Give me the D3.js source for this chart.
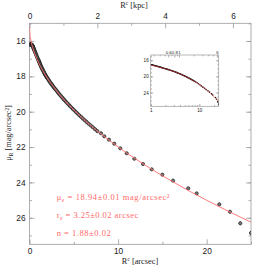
<!DOCTYPE html>
<html>
<head>
<meta charset="utf-8">
<script src="https://cdn.jsdelivr.net/npm/d3@7"></script>
<style>
  html, body { margin: 0; padding: 0; background: #fff; }
  svg { display: block; font-family: "Liberation Serif", "DejaVu Serif", serif; }
</style>
</head>
<body>
<svg id="chart" width="274" height="274"></svg>
<script>
// Profile data (R in arcsec, mu in mag/arcsec^2).
const innerR = [0.03, 0.06, 0.09, 0.12, 0.15, 0.18, 0.21, 0.24, 0.27, 0.29, 0.31, 0.33, 0.36, 0.38,
  0.41, 0.44, 0.47, 0.50, 0.54, 0.58, 0.62, 0.66, 0.71, 0.76, 0.81, 0.87, 0.93, 0.99,
  1.03, 1.07, 1.11, 1.15, 1.19, 1.23, 1.28, 1.32, 1.37, 1.42, 1.47, 1.52, 1.57, 1.63, 1.68, 1.74,
  1.80, 1.86, 1.93, 2.00, 2.07, 2.14, 2.22, 2.29, 2.37, 2.46, 2.54, 2.63, 2.73, 2.82, 2.92, 3.02,
  3.13, 3.24, 3.35, 3.47, 3.59, 3.72, 3.85, 3.98, 4.12, 4.27, 4.42, 4.57, 4.73, 4.90, 5.07, 5.25,
  5.43, 5.62, 5.82, 6.02, 6.23, 6.45, 6.67, 6.91, 7.15, 7.40, 7.66];
const innerMu = [16.21, 16.20, 16.19, 16.18, 16.19, 16.19, 16.20, 16.21, 16.22, 16.24, 16.25, 16.27,
  16.30, 16.32, 16.35, 16.38, 16.42, 16.46, 16.51, 16.56, 16.61, 16.66, 16.72, 16.78, 16.85, 16.92,
  16.99, 17.06,
  17.10, 17.15, 17.20, 17.25, 17.30, 17.35, 17.41, 17.45, 17.51, 17.56, 17.61, 17.66, 17.71, 17.77,
  17.82, 17.88, 17.93, 17.98, 18.04, 18.09, 18.14, 18.19, 18.26, 18.31, 18.37, 18.43, 18.48, 18.54,
  18.61, 18.67, 18.73, 18.79, 18.86, 18.93, 19.00, 19.07, 19.14, 19.21, 19.29, 19.36, 19.44, 19.52,
  19.60, 19.68, 19.76, 19.85, 19.93, 20.02, 20.11, 20.20, 20.29, 20.39, 20.48, 20.58, 20.68, 20.78,
  20.88, 20.99, 21.10];
const outerR = [8.07, 8.44, 8.97, 9.57, 10.25, 10.97, 11.83, 12.81, 13.79, 14.99, 16.2, 17.92,
  18.87, 21.42, 22.63, 23.79, 25.0];
const outerMu = [21.22, 21.39, 21.58, 21.81, 22.07, 22.35, 22.66, 22.96, 23.26, 23.56, 23.9, 24.33,
  24.62, 25.24, 25.66, 26.31, 26.86];
const outerErr = [0.02, 0.02, 0.02, 0.03, 0.03, 0.03, 0.04, 0.04, 0.05, 0.05, 0.06, 0.07,
  0.08, 0.09, 0.10, 0.12, 0.14];

// Sersic fit curve.
const modelR = [0, 0.05, 0.1, 0.2, 0.4, 0.7, 1, 1.5, 2, 3, 4, 5, 6, 8, 10, 12, 14, 16, 18, 20, 22, 24, 25];
const modelMu = [15.21, 15.62, 15.80, 16.06, 16.44, 16.86, 17.20, 17.68, 18.09, 18.78, 19.38, 19.90,
  20.38, 21.23, 21.99, 22.68, 23.32, 23.91, 24.48, 25.01, 25.52, 26.01, 26.24];

const kpcPerArcsec = 0.2613;
const fitLines = [
  { pre: 'μ', sub: 'e', post: ' = 18.94±0.01 mag/arcsec²' },
  { pre: 'r', sub: 'e', post: ' = 3.25±0.02 arcsec' },
  { pre: 'n', sub: '', post: ' = 1.88±0.02' },
];
const insetTopLabels = [0.6, 0.8, 1, 6];

const FRAME = '#9a9a9a';
const INK = '#222';
const RED = '#ff6a6a';

const svg = d3.select('#chart');
const points = innerR.map((r, i) => ({ r, mu: innerMu[i], err: 0 }))
  .concat(outerR.map((r, i) => ({ r, mu: outerMu[i], err: outerErr[i] })));
const model = modelR.map((r, i) => ({ r, mu: modelMu[i] }));

// ---- main panel
const L = 29.5, R = 251, T = 23.3, B = 244.3;
const x = d3.scaleLinear().domain([0, 25]).range([L, R]);
const y = d3.scaleLinear().domain([15, 27.5]).range([T, B]);
const xk = d3.scaleLinear().domain([0, 25 * kpcPerArcsec]).range([L, R]);

function styleAxis(g, size) {
  g.select('.domain').remove();
  g.selectAll('.tick line').attr('stroke', FRAME).attr('stroke-width', 0.8);
  g.selectAll('.tick text').attr('fill', INK).attr('font-size', size).attr('font-family', null);
}

function addAxis(axis, tx, ty, size) {
  svg.append('g').attr('transform', `translate(${tx},${ty})`).call(axis).call(styleAxis, size);
}

// major + minor ticks, all pointing inward
addAxis(d3.axisLeft(y).tickValues(d3.range(16, 27, 2)).tickSize(-5).tickPadding(4), L, 0, 8.3);
addAxis(d3.axisLeft(y).tickValues(d3.range(15, 28, 1)).tickSize(-2.5).tickFormat(''), L, 0, 8);
addAxis(d3.axisRight(y).tickValues(d3.range(16, 27, 2)).tickSize(-5).tickFormat(''), R, 0, 8);
addAxis(d3.axisRight(y).tickValues(d3.range(15, 28, 1)).tickSize(-2.5).tickFormat(''), R, 0, 8);
addAxis(d3.axisBottom(x).tickValues([0, 10, 20]).tickSize(-5).tickPadding(4), 0, B, 8.3);
addAxis(d3.axisBottom(x).tickValues([5, 15, 25]).tickSize(-2.5).tickFormat(''), 0, B, 8);
addAxis(d3.axisTop(xk).tickValues([0, 2, 4, 6]).tickSize(-5).tickPadding(4).tickFormat(d3.format('d')), 0, T, 8.3);
addAxis(d3.axisTop(xk).tickValues([1, 3, 5]).tickSize(-2.5).tickFormat(''), 0, T, 8);

svg.append('rect').attr('x', L).attr('y', T).attr('width', R - L).attr('height', B - T)
  .attr('fill', 'none').attr('stroke', FRAME).attr('stroke-width', 0.8);

svg.append('clipPath').attr('id', 'clipMain').append('rect')
  .attr('x', L).attr('y', T).attr('width', R - L).attr('height', B - T);
const plot = svg.append('g').attr('clip-path', 'url(#clipMain)');

plot.append('g').selectAll('line').data(points.filter(d => d.err > 0)).join('line')
  .attr('x1', d => x(d.r)).attr('x2', d => x(d.r))
  .attr('y1', d => y(d.mu - d.err)).attr('y2', d => y(d.mu + d.err))
  .attr('stroke', '#333').attr('stroke-width', 0.6);

plot.append('g').selectAll('circle').data(points).join('circle')
  .attr('cx', d => x(d.r)).attr('cy', d => y(d.mu)).attr('r', 1.6)
  .attr('fill', '#7a7a7a').attr('stroke', '#1a1a1a').attr('stroke-width', 0.7);

plot.append('path').datum(model)
  .attr('d', d3.line().x(d => x(d.r)).y(d => y(d.mu)).curve(d3.curveMonotoneX))
  .attr('fill', 'none').attr('stroke', RED).attr('stroke-width', 0.9);

// fit parameters
fitLines.forEach((f, i) => {
  const t = svg.append('text').attr('x', 56.7).attr('y', 200 + i * 18)
    .attr('fill', RED).attr('font-size', 8.5);
  t.append('tspan').text(f.pre);
  if (f.sub) t.append('tspan').attr('font-size', 5.5).attr('dy', 1.8).text(f.sub);
  t.append('tspan').attr('dy', f.sub ? -1.8 : 0).text(f.post);
  const targetW = [112.6, 81.6, 54][i];
  const w = t.node().getComputedTextLength();
  t.attr('letter-spacing', ((targetW - w) / (t.text().length - 1)).toFixed(2));
});

// axis titles
function rTitle(cx, yb, unit) {
  const t = svg.append('text').attr('x', cx).attr('y', yb).attr('text-anchor', 'middle')
    .attr('fill', INK).attr('font-size', 8.3);
  t.append('tspan').text('R');
  t.append('tspan').attr('font-size', 5.5).attr('dy', -3).text('c');
  t.append('tspan').attr('dy', 3).text(` [${unit}]`);
}
rTitle(134, 7.5, 'kpc');
rTitle(140, 264, 'arcsec');

const yt = svg.append('text').attr('transform', 'translate(11,133) rotate(-90)')
  .attr('text-anchor', 'middle').attr('fill', INK).attr('font-size', 8.3);
yt.append('tspan').text('μ');
yt.append('tspan').attr('font-size', 5.5).attr('dy', 1.8).text('R');
yt.append('tspan').attr('dy', -1.8).text(' [mag/arcsec²]');

// ---- inset (log radius)
const iL = 150.7, iR = 218.7, iT = 55, iB = 106.3;
const ix = d3.scaleLog().domain([1, 25]).range([iL, iR]);
const iy = d3.scaleLinear().domain([14.7, 27.4]).range([iT, iB]);
const ixk = d3.scaleLog().domain([kpcPerArcsec, 25 * kpcPerArcsec]).range([iL, iR]);

addAxis(d3.axisLeft(iy).tickValues([16, 20, 24]).tickSize(-2.5).tickPadding(2), iL, 0, 4.6);
addAxis(d3.axisLeft(iy).tickValues(d3.range(15, 28, 1)).tickSize(-1.3).tickFormat(''), iL, 0, 4);
addAxis(d3.axisRight(iy).tickValues([16, 20, 24]).tickSize(-2.5).tickFormat(''), iR, 0, 4);
addAxis(d3.axisRight(iy).tickValues(d3.range(15, 28, 1)).tickSize(-1.3).tickFormat(''), iR, 0, 4);
addAxis(d3.axisBottom(ix).tickValues([1, 10]).tickSize(-2.5).tickPadding(2).tickFormat(d3.format('d')), 0, iB, 4.6);
addAxis(d3.axisBottom(ix).tickValues([2, 3, 4, 5, 6, 7, 8, 9, 20]).tickSize(-1.3).tickFormat(''), 0, iB, 4);
addAxis(d3.axisTop(ixk).tickValues(insetTopLabels).tickSize(-2.5).tickPadding(1.5).tickFormat(d3.format('')), 0, iT, 4.3);
addAxis(d3.axisTop(ixk).tickValues([0.3, 0.4, 0.5, 0.7, 0.9, 2, 3, 4, 5]).tickSize(-1.3).tickFormat(''), 0, iT, 4);

svg.append('rect').attr('x', iL).attr('y', iT).attr('width', iR - iL).attr('height', iB - iT)
  .attr('fill', 'none').attr('stroke', FRAME).attr('stroke-width', 0.7);

svg.append('clipPath').attr('id', 'clipInset').append('rect')
  .attr('x', iL).attr('y', iT).attr('width', iR - iL).attr('height', iB - iT);
const inset = svg.append('g').attr('clip-path', 'url(#clipInset)');

inset.append('g').selectAll('circle').data(points.filter(d => d.r >= 1)).join('circle')
  .attr('cx', d => ix(d.r)).attr('cy', d => iy(d.mu)).attr('r', 0.8)
  .attr('fill', '#111');

inset.append('path').datum(model.filter(d => d.r >= 1))
  .attr('d', d3.line().x(d => ix(d.r)).y(d => iy(d.mu)).curve(d3.curveMonotoneX))
  .attr('fill', 'none').attr('stroke', '#e23030').attr('stroke-width', 0.6);
</script>
</body>
</html>
